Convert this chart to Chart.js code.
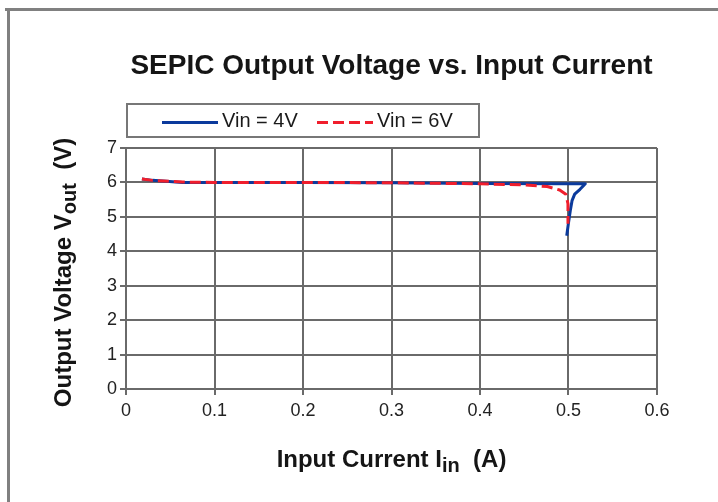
<!DOCTYPE html>
<html>
<head>
<meta charset="utf-8">
<script src="https://cdn.jsdelivr.net/npm/chart.js@4/dist/chart.umd.min.js"></script>
<style>
  html, body { margin: 0; padding: 0; background: #fff; overflow: hidden; }
  canvas { display: block; }
</style>
</head>
<body>
<canvas id="myChart" width="718" height="502"></canvas>
<script>
// chart texts
var titleText = 'SEPIC Output Voltage vs. Input Current';
var xTitleParts = ['Input Current I', 'in', '  (A)'];
var yTitleParts = ['Output Voltage V', 'out', '  (V)'];
var seriesLabels = ['Vin = 4V', 'Vin = 6V'];

// tick labels
var xTickLabels = ['0', '0.1', '0.2', '0.3', '0.4', '0.5', '0.6'];
var yTickLabels = ['0', '1', '2', '3', '4', '5', '6', '7'];

// Vin = 4V curve
var vin4Current = [0.018, 0.03, 0.064, 0.1, 0.2, 0.3, 0.4, 0.5, 0.519, 0.513, 0.507, 0.504, 0.502, 0.4998, 0.498];
var vin4Voltage = [6.10, 6.06, 6.00, 6.00, 6.00, 5.99, 5.97, 5.96, 5.96, 5.80, 5.66, 5.47, 5.18, 4.79, 4.45];

// Vin = 6V curve
var vin6Current = [0.018, 0.03, 0.064, 0.1, 0.2, 0.3, 0.4, 0.45, 0.476, 0.49, 0.497, 0.4994, 0.4994];
var vin6Voltage = [6.10, 6.06, 6.01, 6.00, 6.00, 5.99, 5.96, 5.93, 5.88, 5.78, 5.66, 5.38, 4.80];

var blue = '#0b3a9c';
var red = '#f01e2c';
var gridColor = '#6a6a6a';
var fontFamily = '"Liberation Sans", Arial, sans-serif';

// pair up x and y arrays for the scatter chart
function toPoints(xs, ys) {
    return xs.map(function (x, i) { return { x: x, y: ys[i] }; });
}

// draws a text with a subscript part, centred on cx
function drawSubText(ctx, parts, cx, baseline) {
    var mainFont = 'bold 24px ' + fontFamily;
    var subFont = 'bold 20px ' + fontFamily;
    ctx.font = mainFont;
    var w0 = ctx.measureText(parts[0]).width;
    var w2 = ctx.measureText(parts[2]).width;
    ctx.font = subFont;
    var w1 = ctx.measureText(parts[1]).width;
    var x = cx - (w0 + w1 + w2) / 2;
    ctx.textAlign = 'left';
    ctx.textBaseline = 'alphabetic';
    ctx.font = mainFont;
    ctx.fillText(parts[0], x, baseline);
    ctx.font = subFont;
    ctx.fillText(parts[1], x + w0, baseline + 5);
    ctx.font = mainFont;
    ctx.fillText(parts[2], x + w0 + w1, baseline);
}

// page frame (top and left edge only)
var framePlugin = {
    id: 'frame',
    beforeDraw: function (chart) {
        var ctx = chart.ctx;
        ctx.save();
        ctx.fillStyle = '#fff';
        ctx.fillRect(0, 0, chart.width, chart.height);
        ctx.fillStyle = '#808080';
        ctx.fillRect(5, 8, chart.width - 5, 3);
        ctx.fillRect(7, 8, 3, chart.height - 8);
        ctx.restore();
    }
};

// title, boxed legend and axis titles
var decorPlugin = {
    id: 'decor',
    afterDraw: function (chart) {
        var ctx = chart.ctx;
        var area = chart.chartArea;
        var cx = (area.left + area.right) / 2;
        ctx.save();
        ctx.fillStyle = '#151515';

        // title
        ctx.font = 'bold 28px ' + fontFamily;
        ctx.textAlign = 'center';
        ctx.textBaseline = 'alphabetic';
        ctx.fillText(titleText, cx, 74);

        // legend box
        ctx.strokeStyle = '#777';
        ctx.lineWidth = 2;
        ctx.fillStyle = '#fff';
        ctx.fillRect(127, 104, 352, 33);
        ctx.strokeRect(127, 104, 352, 33);

        var items = [
            { x: 162, ds: chart.data.datasets[0] },
            { x: 317, ds: chart.data.datasets[1] }
        ];
        items.forEach(function (it) {
            ctx.beginPath();
            ctx.strokeStyle = it.ds.borderColor;
            ctx.lineWidth = 3;
            ctx.setLineDash(it.ds.borderDash || []);
            ctx.moveTo(it.x, 122.5);
            ctx.lineTo(it.x + 56, 122.5);
            ctx.stroke();
            ctx.setLineDash([]);
            ctx.fillStyle = '#1a1a1a';
            ctx.font = '20px ' + fontFamily;
            ctx.textAlign = 'left';
            ctx.textBaseline = 'middle';
            ctx.fillText(it.ds.label, it.x + 60, 121);
        });

        // axis titles
        ctx.fillStyle = '#151515';
        drawSubText(ctx, xTitleParts, cx, 467);
        ctx.translate(71, (area.top + area.bottom) / 2 + 4);
        ctx.rotate(-Math.PI / 2);
        drawSubText(ctx, yTitleParts, 0, 0);
        ctx.restore();
    }
};

var ctx = document.getElementById('myChart').getContext('2d');
var chart = new Chart(ctx, {
    type: 'scatter',
    data: {
        datasets: [
            {
                label: seriesLabels[0],
                data: toPoints(vin4Current, vin4Voltage),
                showLine: true,
                borderColor: blue,
                backgroundColor: blue,
                borderWidth: 3,
                borderJoinStyle: 'round',
                pointRadius: 0,
                order: 2
            },
            {
                label: seriesLabels[1],
                data: toPoints(vin6Current, vin6Voltage),
                showLine: true,
                borderColor: red,
                backgroundColor: red,
                borderWidth: 3,
                borderDash: [11, 5],
                borderJoinStyle: 'round',
                pointRadius: 0,
                order: 1
            }
        ]
    },
    options: {
        responsive: false,
        animation: false,
        layout: { padding: { top: 148, right: 61, bottom: 0, left: 0 } },
        plugins: {
            legend: { display: false },
            title: { display: false },
            tooltip: { enabled: false }
        },
        scales: {
            x: {
                type: 'linear',
                min: 0,
                max: 0.6,
                afterFit: function (scale) { scale.height = 113; },
                ticks: {
                    stepSize: 0.1,
                    padding: 5,
                    color: '#222',
                    font: { family: fontFamily, size: 18 },
                    maxRotation: 0,
                    callback: function (value, index) { return xTickLabels[index]; }
                },
                grid: { color: gridColor, lineWidth: 2, tickLength: 6 },
                border: { color: gridColor, width: 2 }
            },
            y: {
                min: 0,
                max: 7,
                afterFit: function (scale) { scale.width = 126; },
                ticks: {
                    stepSize: 1,
                    padding: 3,
                    color: '#222',
                    font: { family: fontFamily, size: 18 },
                    callback: function (value, index) { return yTickLabels[index]; }
                },
                grid: { color: gridColor, lineWidth: 2, tickLength: 6 },
                border: { color: gridColor, width: 2 }
            }
        }
    },
    plugins: [framePlugin, decorPlugin]
});
</script>
</body>
</html>
